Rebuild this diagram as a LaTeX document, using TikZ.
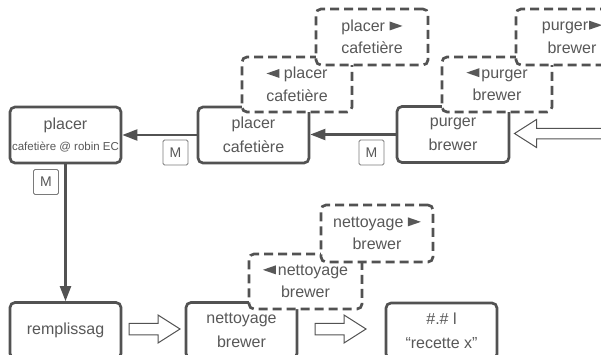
\documentclass[tikz,border=0pt]{standalone}
\usepackage{fontspec}
\setmainfont{Liberation Sans}
\usetikzlibrary{arrows.meta}
\definecolor{boxc}{HTML}{525252}
\definecolor{txtc}{HTML}{585858}
\definecolor{mc}{HTML}{7A7A7A}
\newcommand{\bigf}{\fontsize{16}{24}\selectfont}
\newcommand{\dashf}{\fontsize{16}{22.5}\selectfont}
\newcommand{\smallf}{\fontsize{11.5}{14}\selectfont}
\newcommand{\ltri}{\tikz[baseline=-1pt]\fill[txtc,sharp corners,solid] (0pt,4.5pt) -- (13pt,9pt) -- (13pt,0pt) -- cycle;}
\newcommand{\rtri}{\tikz[baseline=-1pt]\fill[txtc,sharp corners,solid] (13pt,4.5pt) -- (0pt,9pt) -- (0pt,0pt) -- cycle;}
\begin{document}
\begin{tikzpicture}[x=1pt,y=-1pt,
  solidbox/.style={draw=boxc, line width=2.7pt, rounded corners=5pt, fill=white,
    minimum width=111pt, minimum height=56pt, inner sep=0pt, align=center,
    text=txtc, font=\bigf},
  dashbox/.style={draw=boxc, line width=2.7pt, rounded corners=5pt, fill=white,
    dash pattern=on 9pt off 5pt, minimum width=110pt, minimum height=55pt,
    inner sep=0pt, align=center, text=txtc, font=\dashf},
  mlabel/.style={draw=mc, line width=0.8pt, rounded corners=1.5pt, fill=white,
    minimum width=25pt, minimum height=25pt, inner sep=0pt, text=txtc,
    font=\fontsize{14}{16}\selectfont},
  conn/.style={draw=boxc, line width=2.2pt, -{Triangle[length=15pt,width=11pt]}},
  hollow/.style={draw=boxc, line width=1pt, fill=white, line join=miter},
  hollowR/.pic={\draw[hollow] (0,-5.75) -- (29,-5.75) -- (29,-14) -- (51,0) -- (29,14) -- (29,5.75) -- (0,5.75) -- cycle;}
]
\useasboundingbox (0,0) rectangle (601,355);
\clip (0,0) rectangle (601,355);

% solid boxes
\node[solidbox] (A) at (65.5,135) {placer\\[-3pt]\makebox[90pt][c]{\smallf cafetière @ robin EC}};
\node[solidbox] (B) at (253.5,135) {placer\\cafetière};
\node[solidbox, minimum width=112pt] (C) at (453,134.5) {purger\\brewer};
\node[solidbox] (D) at (65.5,330.5) {remplissag};
\node[solidbox] (E) at (241.5,330.5) {nettoyage\\brewer};
\node[solidbox] (F) at (441.5,331) {\#.\# l\\“recette x”};

% connectors
\draw[conn] (B.west) -- (A.east);
\draw[conn] (C.west) -- (B.east |- C.west);
\draw[conn] (A.south) -- (D.north);

% M labels
\node[mlabel] (M1) at (175.5,152.5) {M};
\node[mlabel] (M2) at (371.5,152.5) {M};
\node[mlabel] (M3) at (46,182) {M};

% hollow arrows
\pic at (129,329) {hollowR};
\pic at (315,329) {hollowR};
\draw[hollow] (630,128.5) -- (536.5,128.5) -- (536.5,119.5) -- (514.5,133.5) -- (536.5,147.5) -- (536.5,139) -- (630,139) -- cycle;

% dashed boxes
\node[dashbox] (B1) at (297,84.5) {\ltri\ placer\\cafetière};
\node[dashbox, minimum width=112pt, minimum height=56pt] (B2) at (372,37) {placer \rtri\\cafetière};
\node[dashbox] (C1) at (497,84.5) {\ltri\hspace{2pt}purger\\brewer};
\node[dashbox, minimum width=112pt, minimum height=56pt] (C2) at (572,37) {purger\hspace{1pt}\rtri\\brewer};
\node[dashbox, minimum width=113pt] (E1) at (305.5,281.5) {\ltri\hspace{2pt}nettoyage\\brewer};
\node[dashbox, minimum width=112pt, minimum height=57pt] (E2) at (377,233.5) {nettoyage \rtri\\brewer};
\end{tikzpicture}
\end{document}
